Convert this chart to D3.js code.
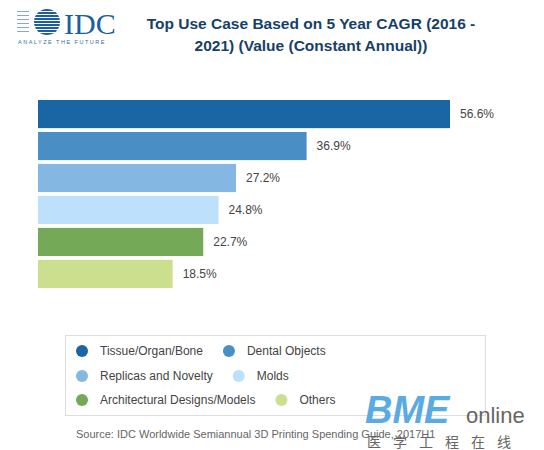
<!DOCTYPE html>
<html><head><meta charset="utf-8">
<script src="https://cdn.jsdelivr.net/npm/d3@7"></script>
<style>body{margin:0;background:#fff}</style>
</head><body>
<script>
var categories = ["Tissue/Organ/Bone", "Dental Objects", "Replicas and Novelty", "Molds", "Architectural Designs/Models", "Others"];
var values = [56.6, 36.9, 27.2, 24.8, 22.7, 18.5];
var colors = ["#1a65a3", "#4a8ec6", "#84b8e2", "#bde0fb", "#74aa57", "#cbdf8e"];

var svg = d3.select("body").append("svg").attr("width", 544).attr("height", 450)
    .style("font-family", "Arial, 'Liberation Sans', sans-serif");

// logo
var logo = svg.append("g");
logo.append("clipPath").attr("id", "lc").append("circle").attr("cx", 47).attr("cy", 22).attr("r", 13);
var stripes = d3.range(0, 26, 3);
logo.append("g").attr("clip-path", "url(#lc)").selectAll("rect").data(stripes).enter()
    .append("rect").attr("x", 30).attr("y", function(d){ return 9 + d; }).attr("width", 34).attr("height", 2)
    .attr("fill", "#1b5fa0");
logo.append("g").selectAll("rect").data([11, 15, 19, 23, 27, 31]).enter()
    .append("rect").attr("x", 17).attr("y", function(d){ return d; }).attr("width", 12).attr("height", 1).attr("fill", "#8aa9c8");
logo.append("text").attr("x", 64).attr("y", 34).attr("font-family", "'Liberation Serif', serif")
    .attr("font-size", 30).attr("fill", "#1b5fa0").text("IDC");
logo.append("text").attr("x", 18).attr("y", 44).attr("font-size", 5.5).attr("letter-spacing", 1.5)
    .attr("fill", "#3a6d9e").text("ANALYZE THE FUTURE");

// title
svg.append("text").attr("x", 311).attr("y", 29).attr("text-anchor", "middle").attr("font-size", 15.5)
    .attr("font-weight", "bold").attr("fill", "#173f66").text("Top Use Case Based on 5 Year CAGR (2016 -");
svg.append("text").attr("x", 311).attr("y", 51).attr("text-anchor", "middle").attr("font-size", 15.5)
    .attr("font-weight", "bold").attr("fill", "#173f66").text("2021) (Value (Constant Annual))");

// bars
var x = d3.scaleLinear().domain([0, 56.6]).range([38, 450]);
var y = d3.scaleBand().domain(categories).range([100, 288]).paddingInner(0.12).paddingOuter(0);
svg.append("g").selectAll("rect").data(values).enter().append("rect")
    .attr("x", x(0)).attr("y", function(d, i){ return y(categories[i]); })
    .attr("width", function(d){ return x(d) - x(0); }).attr("height", y.bandwidth())
    .attr("fill", function(d, i){ return colors[i]; });
svg.append("g").selectAll("text").data(values).enter().append("text")
    .attr("x", function(d){ return x(d) + 10; })
    .attr("y", function(d, i){ return y(categories[i]) + y.bandwidth() / 2 + 4; })
    .attr("font-size", 12).attr("fill", "#444").text(function(d){ return d.toFixed(1) + "%"; });

// legend
svg.append("rect").attr("x", 65.5).attr("y", 335.5).attr("width", 420).attr("height", 80)
    .attr("fill", "none").attr("stroke", "#ddd");
var rowsY = [351, 376, 400];
categories.forEach(function(c, i){
    var row = Math.floor(i / 2);
    var g = svg.append("g").attr("class", "leg" + i);
    g.append("circle").attr("r", 6).attr("cy", rowsY[row]).attr("fill", colors[i]);
    g.append("text").attr("y", rowsY[row] + 4).attr("font-size", 12).attr("fill", "#444").text(c);
});
for (var r = 0; r < 3; r++) {
    var cx = 82;
    for (var c = 0; c < 2; c++) {
        var g = svg.select(".leg" + (r * 2 + c));
        g.select("circle").attr("cx", cx);
        var t = g.select("text").attr("x", cx + 18);
        cx = cx + 18 + t.node().getComputedTextLength() + 26;
    }
}

svg.append("text").attr("x", 76).attr("y", 438).attr("font-size", 11).attr("fill", "#666")
    .text("Source: IDC Worldwide Semiannual 3D Printing Spending Guide, 2017H1");

// watermark
svg.append("text").attr("x", 365).attr("y", 423).attr("font-size", 38).attr("font-weight", "bold")
    .attr("font-style", "italic").attr("fill", "#4aa3e0").attr("opacity", 0.9).text("BME");
svg.append("text").attr("x", 466).attr("y", 423).attr("font-size", 22).attr("fill", "#666").text("online");
svg.append("text").attr("x", 367).attr("y", 447).attr("font-size", 14).attr("letter-spacing", 12)
    .attr("fill", "#666").attr("font-family", "'Noto Sans CJK SC'").text("医学工程在线");
</script>
</body></html>
